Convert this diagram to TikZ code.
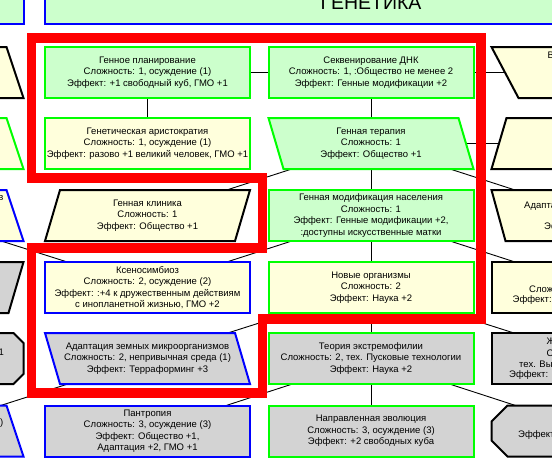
\documentclass[tikz,border=0pt]{standalone}
\usepackage{fontspec}
\setmainfont{Liberation Sans}
\usetikzlibrary{calc}
\definecolor{lgreen}{HTML}{CCFFCC}
\definecolor{lyellow}{HTML}{FFFFDC}
\definecolor{lgray}{HTML}{D3D3D3}
\definecolor{bgreen}{HTML}{00FF00}
\definecolor{bblue}{HTML}{0000FF}
\definecolor{bred}{HTML}{FF0000}
\pgfdeclarelayer{lines}
\pgfdeclarelayer{shapes}
\pgfsetlayers{lines,shapes,main}
\tikzset{
  txt/.style={font=\fontsize{9.5}{11.5}\selectfont, align=center, inner sep=0pt, text=black},
  frag/.style={font=\fontsize{9.5}{11.5}\selectfont, inner sep=0pt, text=black},
  gbox/.style={draw=bgreen, line width=2pt},
  bbox/.style={draw=bblue, line width=2pt},
  kbox/.style={draw=black, line width=2pt},
  fg/.style={fill=lgreen}, fy/.style={fill=lyellow}, fk/.style={fill=lgray},
  link/.style={draw=black, line width=0.9pt},
  redframe/.style={draw=bred, line width=9.5pt, line join=miter}
}
\newcommand{\shpRect}[2]{\path[#1,shift={#2}] (-102.5,-25.5) rectangle (102.5,25.5);}
\newcommand{\shpParL}[2]{\path[#1,shift={#2}] (-102.5,-25.5) -- (87.5,-25.5) -- (102.5,25.5) -- (-87.5,25.5) -- cycle;}
\newcommand{\shpParR}[2]{\path[#1,shift={#2}] (-87.5,-25.5) -- (102.5,-25.5) -- (87.5,25.5) -- (-102.5,25.5) -- cycle;}
\newcommand{\shpTrapN}[2]{\path[#1,shift={#2}] (-85.5,-25.5) -- (85.5,-25.5) -- (102.5,25.5) -- (-102.5,25.5) -- cycle;}
\newcommand{\shpTrapW}[3]{\path[#1,shift={#2}] (-102.5,-25.5) -- (102.5,-25.5) -- ({102.5-#3},25.5) -- ({-102.5+#3},25.5) -- cycle;}
\newcommand{\shpOct}[3]{\path[#1,shift={#2}] ({-102.5+#3},-25.5) -- ({102.5-#3},-25.5) -- (102.5,{-25.5+#3}) -- (102.5,{25.5-#3}) -- ({102.5-#3},25.5) -- ({-102.5+#3},25.5) -- (-102.5,{25.5-#3}) -- (-102.5,{-25.5+#3}) -- cycle;}
\begin{document}
\begin{tikzpicture}[x=1pt,y=-1pt]
\useasboundingbox (0,0) rectangle (552,458);
% ---- text nodes
\node[txt] (hdr) at (371,3) {\fontsize{19.5}{22}\selectfont ГЕНЕТИКА};
\node[txt] (a1) at (147.5,72.5) {Генное планирование\\Сложность: 1, осуждение (1)\\Эффект: +1 свободный куб, ГМО +1};
\node[txt] (b1) at (371,72.5) {Секвенирование ДНК\\Сложность: 1, :Общество не менее 2\\Эффект: Генные модификации +2};
\node[txt] (a2) at (147.5,143.5) {Генетическая аристократия\\Сложность: 1, осуждение (1)\\Эффект: разово +1 великий человек, ГМО +1};
\node[txt] (b2) at (371,143.5) {Генная терапия\\Сложность: 1\\Эффект: Общество +1};
\node[txt] (a3) at (147.5,215.5) {Генная клиника\\Сложность: 1\\Эффект: Общество +1};
\node[txt] (b3) at (371,215.5) {Генная модификация населения\\Сложность: 1\\Эффект: Генные модификации +2,\\:доступны искусственные матки};
\node[txt] (a4) at (147.5,287.5) {Ксеносимбиоз\\Сложность: 2, осуждение (2)\\Эффект: :+4 к дружественным действиям\\с инопланетной жизнью, ГМО +2};
\node[txt] (b4) at (371,287.5) {Новые организмы\\Сложность: 2\\Эффект: Наука +2};
\node[txt] (a5) at (147.5,358.5) {Адаптация земных микроорганизмов\\Сложность: 2, непривычная среда (1)\\Эффект: Терраформинг +3};
\node[txt] (b5) at (371,358.5) {Теория экстремофилии\\Сложность: 2, тех. Пусковые технологии\\Эффект: Наука +2};
\node[txt] (a6) at (147.5,431) {Пантропия\\Сложность: 3, осуждение (3)\\Эффект: Общество +1,\\Адаптация +2, ГМО +1};
\node[txt] (b6) at (371,431) {Направленная эволюция\\Сложность: 3, осуждение (3)\\Эффект: +2 свободных куба};
% off-canvas shape centres
\coordinate (z1) at (-79,72.5);
\coordinate (z2) at (-79,143.5);
\coordinate (z3) at (-79,215.5);
\coordinate (z4) at (-79,287.5);
\coordinate (z5) at (-79,358.5);
\coordinate (z6) at (-79,431);
\coordinate (d1) at (594,72.5);
\coordinate (d2) at (594,143.5);
\coordinate (d3) at (594,215.5);
\coordinate (d4) at (594,287.5);
\coordinate (d5) at (594,358.5);
\coordinate (d6) at (594,431);
\coordinate (e7) at (147.5,502.5);
\coordinate (f7) at (371,502.5);
\coordinate (g7) at (594,502.5);
% visible text fragments of cut shapes
\node[frag, anchor=east] (z3t) at (3.5,197.5) {в};
\node[frag, anchor=east] (z5t) at (4,352.5) {1};
\node[frag, anchor=east] (z6t) at (3.5,423) {)};
\node[frag, anchor=west] (d1t) at (547.5,55) {В};
\node[frag, anchor=west] (d3t) at (524,206.5) {Адапта};
\node[frag, anchor=west] (d3u) at (544,227.5) {Эф};
\node[frag, anchor=west] (d4t) at (529,289) {Слож};
\node[frag, anchor=west] (d4u) at (512.5,300) {Эффект:};
\node[frag, anchor=west] (d5t) at (546.5,341.5) {Ж};
\node[frag, anchor=west] (d5u) at (546.5,353) {С};
\node[frag, anchor=west] (d5v) at (519,364.5) {тех. Вы};
\node[frag, anchor=west] (d5w) at (509,375.5) {Эффект:};
\node[frag, anchor=west] (d6t) at (518,435.5) {Эффект};
% ---- shapes
\begin{pgfonlayer}{shapes}
\path[fg,bbox] (45,-40) rectangle (697,23.5);
\path[fg,bbox] (-200,-40) rectangle (23.5,23.5);
\shpRect{fg,gbox}{(147.5,72.5)}
\shpRect{fg,gbox}{(371,72.5)}
\shpRect{fy,gbox}{(147.5,143.5)}
\shpParL{fg,gbox}{(371,143.5)}
\shpParR{fy,kbox}{(147.5,215.5)}
\shpRect{fg,gbox}{(371,215.5)}
\shpRect{fy,bbox}{(147.5,287.5)}
\shpRect{fy,gbox}{(371,287.5)}
\shpParL{fk,bbox}{(147.5,358.5)}
\shpRect{fk,gbox}{(371,358.5)}
\shpRect{fk,bbox}{(147.5,431)}
\shpRect{fk,gbox}{(371,431)}
\shpTrapN{fy,kbox}{(-79,72.5)}
\shpTrapN{fy,gbox}{(-79,143.5)}
\shpTrapN{fy,bbox}{(-79,215.5)}
\shpParR{fk,kbox}{(-79,287.5)}
\shpOct{fk,kbox}{(-79,358.5)}{10}
\shpTrapN{fk,bbox}{(-79,431)}
\shpTrapW{fy,kbox}{(594,72.5)}{27}
\shpParR{fy,kbox}{(594,143.5)}
\shpTrapW{fy,kbox}{(594,215.5)}{14}
\shpRect{fy,kbox}{(594,287.5)}
\shpRect{fk,kbox}{(594,358.5)}
\shpOct{fk,kbox}{(594,431)}{16}
\end{pgfonlayer}
% ---- connectors
\begin{pgfonlayer}{lines}
\draw[link] (a1) -- (b1);
\draw[link] (b1) -- (d1);
\draw[link] (a1) -- (a2);
\draw[link] (b1) -- (b2);
\draw[link] (b2) -- (d2);
\draw[link] (b2) -- (a3);
\draw[link] (b2) -- (b3);
\draw[link] (b2) -- (d3);
\draw[link] (z3) -- (a4);
\draw[link] (a4) -- (b3);
\draw[link] (b3) -- (b4);
\draw[link] (b3) -- (d4);
\draw[link] (b4) -- (a5);
\draw[link] (b4) -- (b5);
\draw[link] (b4) -- (d5);
\draw[link] (z6) -- (a5);
\draw[link] (b5) -- (b6);
\draw[link] (b5) -- (d6);
\draw[link] (b5) -- (a6);
\draw[link] (a6) -- (e7);
\draw[link] (b6) -- (e7);
\draw[link] (b6) -- (f7);
\draw[link] (b6) -- (g7);
\end{pgfonlayer}
% ---- red frame
\draw[redframe] (31.5,38) -- (481,38) -- (481,319) -- (262.5,319) -- (262.5,393) -- (31.5,393) -- (31.5,248) -- (262.5,248) -- (262.5,178) -- (31.5,178) -- cycle;
\end{tikzpicture}
\end{document}
